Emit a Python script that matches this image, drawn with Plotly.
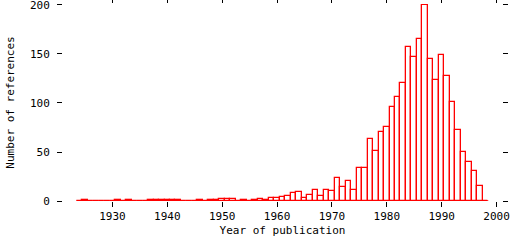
import plotly.graph_objects as go

years = list(range(1924, 1999))
counts = [
    0, 1, 0, 0, 0, 0, 0, 1, 0, 1,        # 1924-1933
    0, 0, 0, 1, 1, 1, 1, 1, 1, 0,        # 1934-1943
    0, 0, 1, 0, 1, 1, 2, 2, 2, 0,        # 1944-1953
    1, 0, 1, 2, 1, 3, 3, 4, 5, 8,        # 1954-1963
    9, 3, 6, 11, 5, 11, 10, 23, 14, 20,  # 1964-1973
    11, 34, 34, 63, 51, 70, 75, 96, 106, 120,  # 1974-1983
    157, 147, 165, 200, 145, 123, 149, 128, 101, 72,  # 1984-1993
    50, 40, 31, 15, 0,                   # 1994-1998
]
x_ticks = [1930, 1940, 1950, 1960, 1970, 1980, 1990, 2000]
y_ticks = [0, 50, 100, 150, 200]

RED = "#ff0000"
FONT = dict(family="DejaVu Sans Mono", size=11, color="black")

fig = go.Figure()
# baseline of the histogram (zero-count bins are drawn as flat outline)
fig.add_trace(go.Scatter(
    x=[years[0] - 0.5, years[-1] + 0.5], y=[0, 0], mode="lines",
    line=dict(color=RED, width=1.5), showlegend=False, hoverinfo="skip",
    cliponaxis=False,
))
fig.add_trace(go.Bar(
    x=years, y=counts, width=1,
    marker=dict(color="rgba(0,0,0,0)", line=dict(color=RED, width=1.3)),
    cliponaxis=False, showlegend=False,
))

fig.update_layout(
    width=512, height=240,
    margin=dict(l=63, r=10, t=4, b=39),
    paper_bgcolor="white", plot_bgcolor="white",
    font=FONT, bargap=0,
    xaxis=dict(
        range=[1921, 2001.001], tickvals=x_ticks, ticktext=[str(v) for v in x_ticks],
        ticks="outside", ticklen=5, tickwidth=1, tickcolor="black",
        mirror="ticks", showline=False, showgrid=False, zeroline=False,
        title=dict(text="Year of publication", font=FONT, standoff=4),
        tickfont=FONT, ticklabeloverflow="allow", automargin=False,
    ),
    yaxis=dict(
        range=[0, 201], tickvals=y_ticks, ticktext=[str(v) for v in y_ticks],
        ticks="outside", ticklen=5, tickwidth=1, tickcolor="black",
        mirror="ticks", showline=False, showgrid=False, zeroline=False,
        title=dict(text="Number of references", font=FONT, standoff=13),
        tickfont=FONT, ticklabelstandoff=5, ticklabeloverflow="allow",
        automargin=False,
    ),
)

fig.write_html("out.html")
